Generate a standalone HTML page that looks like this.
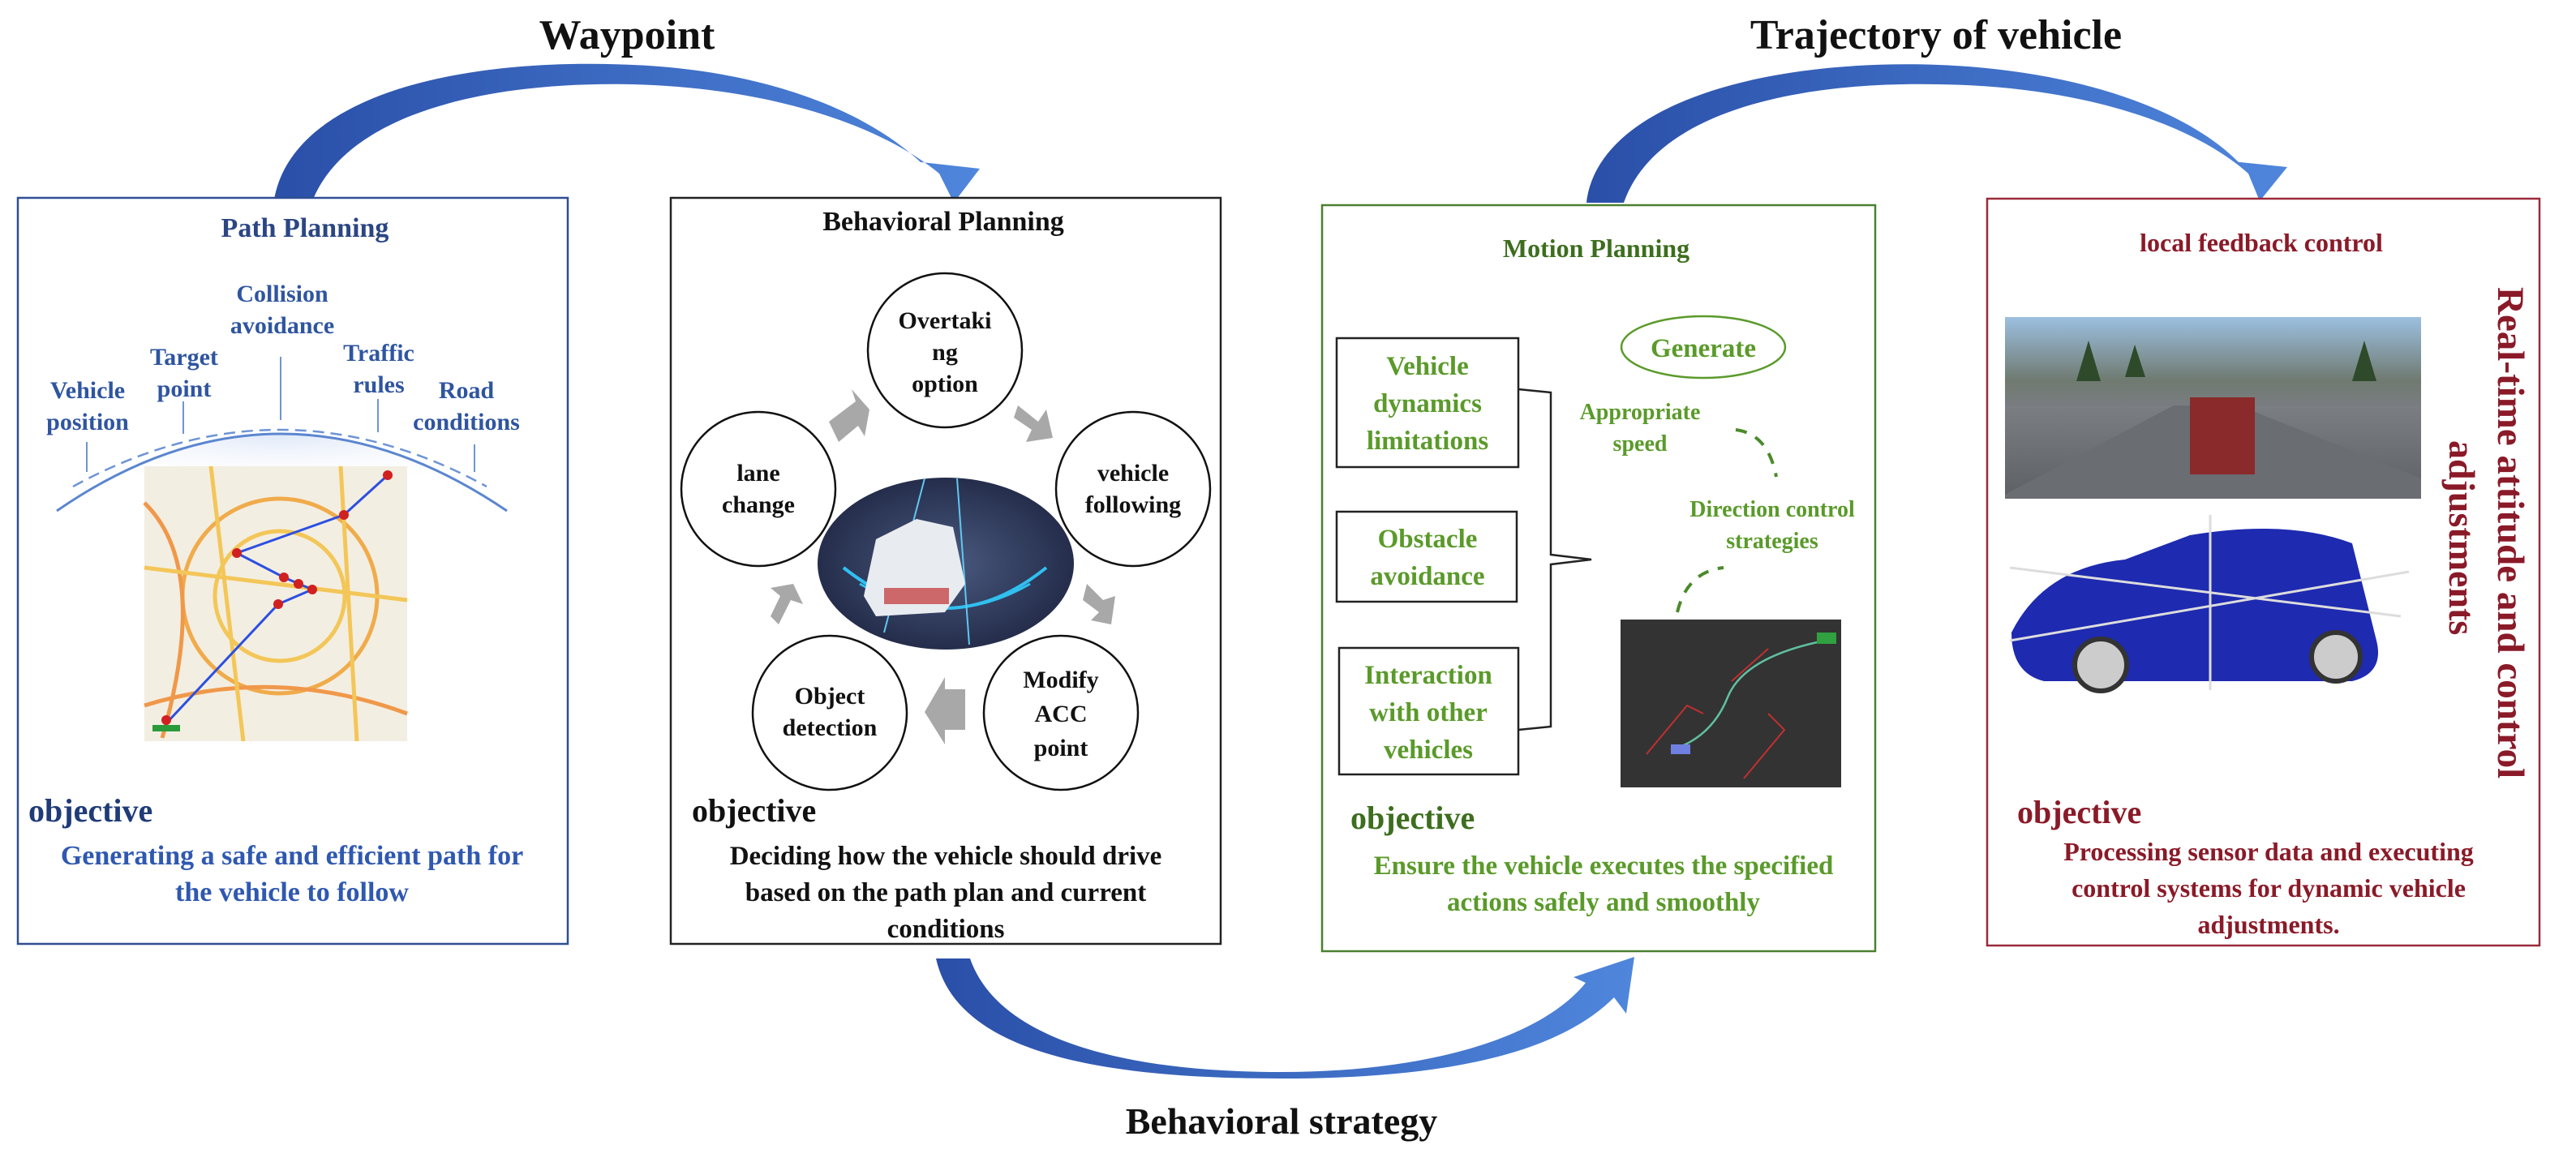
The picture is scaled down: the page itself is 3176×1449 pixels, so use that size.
<!DOCTYPE html>
<html><head><meta charset="utf-8"><style>
html,body{margin:0;padding:0;background:#fff;}
svg{display:block;}
text{font-family:"Liberation Serif",serif;font-weight:bold;}
</style></head><body>
<svg width="3176" height="1449" viewBox="0 0 3176 1449" xmlns="http://www.w3.org/2000/svg">
<defs>
<linearGradient id="ab" x1="0" y1="0" x2="1" y2="0"><stop offset="0" stop-color="#2a4fa8"/><stop offset="1" stop-color="#4f86dc"/></linearGradient>
<radialGradient id="dome" cx="0.5" cy="0" r="0.7"><stop offset="0" stop-color="#dfe8f8"/><stop offset="1" stop-color="#ffffff" stop-opacity="0"/></radialGradient>
<radialGradient id="carbg" cx="0.5" cy="0.5" r="0.6"><stop offset="0" stop-color="#4a5a80"/><stop offset="1" stop-color="#1d2440"/></radialGradient>
<linearGradient id="street" x1="0" y1="0" x2="0" y2="1"><stop offset="0" stop-color="#9cc0e0"/><stop offset="0.35" stop-color="#6f7a70"/><stop offset="0.5" stop-color="#7a7d82"/><stop offset="1" stop-color="#5d6166"/></linearGradient>
</defs>

<!-- Arrows -->
<path d="M338,246 C360,120 560,70 780,80 C930,86 1060,130 1135,200 L1118,198 L1208,208 L1176,250 L1158,214 C1080,150 940,108 780,104 C600,100 430,140 386,246 Z" fill="url(#ab)"/>
<path d="M1956,250 C1970,130 2170,72 2390,80 C2550,86 2690,130 2760,200 L2742,198 L2820,206 L2786,248 L2772,214 C2700,150 2560,106 2390,104 C2210,100 2040,140 2002,250 Z" fill="url(#ab)"/>
<path d="M1154,1182 L1196,1182 C1230,1280 1380,1322 1580,1322 C1760,1322 1900,1280 1955,1212 L1940,1205 L2015,1180 L2005,1250 L1990,1230 C1920,1300 1780,1330 1580,1330 C1360,1330 1180,1300 1154,1182 Z" fill="url(#ab)"/>

<text x="773" y="60" font-size="52" text-anchor="middle" fill="#111">Waypoint</text>
<text x="2387" y="60" font-size="52" text-anchor="middle" fill="#111">Trajectory of vehicle</text>
<text x="1580" y="1398" font-size="46" text-anchor="middle" fill="#111">Behavioral strategy</text>

<!-- Path planning -->
<rect x="22" y="244" width="678" height="920" fill="#fff" stroke="#2f4f92" stroke-width="2.5"/>
<text x="376" y="292" font-size="34" text-anchor="middle" fill="#2b4683">Path Planning</text>
<g font-size="30" fill="#2f55a0" text-anchor="middle">
<text x="348" y="372">Collision</text><text x="348" y="411">avoidance</text>
<text x="227" y="450">Target</text><text x="227" y="489">point</text>
<text x="108" y="491">Vehicle</text><text x="108" y="530">position</text>
<text x="467" y="445">Traffic</text><text x="467" y="484">rules</text>
<text x="575" y="491">Road</text><text x="575" y="530">conditions</text>
</g>
<path d="M70,630 Q345,440 625,630 Z" fill="url(#dome)"/>
<path d="M70,630 Q345,440 625,630" fill="none" stroke="#5b86d0" stroke-width="3"/>
<path d="M90,600 Q345,460 600,600" fill="none" stroke="#6e94d6" stroke-width="2.5" stroke-dasharray="14,8"/>
<g stroke="#6e94d6" stroke-width="2"><line x1="107" y1="545" x2="107" y2="582"/><line x1="226" y1="495" x2="226" y2="535"/><line x1="346" y1="440" x2="346" y2="518"/><line x1="466" y1="492" x2="466" y2="533"/><line x1="585" y1="548" x2="585" y2="582"/></g>
<rect x="178" y="575" width="324" height="339" fill="#f3eee2"/>
<g fill="none" stroke-width="5" opacity="0.85">
<circle cx="345" cy="735" r="120" stroke="#f0a030"/><circle cx="345" cy="735" r="80" stroke="#f4c040"/>
<path d="M178,620 Q260,700 200,910" stroke="#f08a30"/><path d="M178,870 Q340,820 502,880" stroke="#f08a30"/>
<path d="M260,575 L300,914" stroke="#f4c040"/><path d="M420,575 L440,914" stroke="#f4c040"/>
<path d="M178,700 L502,740" stroke="#f4c040"/>
</g>
<path d="M478,586 L424,635 L292,682 L350,712 L385,727 L343,745 L205,892" fill="none" stroke="#2c4fe0" stroke-width="3"/>
<g fill="#d02020"><circle cx="478" cy="586" r="6"/><circle cx="424" cy="635" r="6"/><circle cx="292" cy="682" r="6"/><circle cx="350" cy="712" r="6"/><circle cx="368" cy="720" r="6"/><circle cx="385" cy="727" r="6"/><circle cx="343" cy="745" r="6"/><circle cx="205" cy="888" r="6"/></g>
<rect x="188" y="894" width="34" height="8" fill="#2a9a3a"/>
<text x="35" y="1013" font-size="40" fill="#1f3b78">objective</text>
<g font-size="34" fill="#2f58b0" text-anchor="middle"><text x="360" y="1066">Generating a safe and efficient path for</text><text x="360" y="1111">the vehicle to follow</text></g>

<!-- Behavioral -->
<rect x="827" y="244" width="678" height="920" fill="#fff" stroke="#222" stroke-width="2.5"/>
<text x="1163" y="284" font-size="34" text-anchor="middle" fill="#111">Behavioral Planning</text>
<ellipse cx="1166" cy="695" rx="158" ry="106" fill="url(#carbg)"/>
<path d="M1040,700 Q1166,800 1290,700" fill="none" stroke="#30c0f0" stroke-width="4"/>
<path d="M1060,720 Q1166,780 1270,720" fill="none" stroke="#30c0f0" stroke-width="3"/>
<path d="M1180,590 L1195,795 M1140,590 L1090,780" stroke="#60c8f0" stroke-width="2"/>
<path d="M1065,735 L1080,665 L1130,640 L1175,650 L1190,720 L1165,755 L1080,760 Z" fill="#e8ecf0"/>
<rect x="1090" y="725" width="80" height="20" fill="#c03030" opacity="0.7"/>
<g fill="#fff" stroke="#111" stroke-width="2.5">
<circle cx="1165" cy="432" r="95"/><circle cx="935" cy="603" r="95"/><circle cx="1397" cy="603" r="95"/><circle cx="1023" cy="879" r="95"/><circle cx="1308" cy="879" r="95"/>
</g>
<g font-size="30" text-anchor="middle" fill="#111">
<text x="1165" y="405">Overtaki</text><text x="1165" y="444">ng</text><text x="1165" y="483">option</text>
<text x="935" y="593">lane</text><text x="935" y="632">change</text>
<text x="1397" y="593">vehicle</text><text x="1397" y="632">following</text>
<text x="1023" y="868">Object</text><text x="1023" y="907">detection</text>
<text x="1308" y="848">Modify</text><text x="1308" y="890">ACC</text><text x="1308" y="932">point</text>
</g>
<g fill="#a8a8a8">
<path d="M1022,520 L1055,495 L1050,480 L1072,505 L1066,538 L1058,525 L1034,545 Z"/>
<path d="M1255,500 L1280,520 L1290,505 L1298,540 L1265,545 L1272,530 L1250,515 Z"/>
<path d="M1340,720 L1360,740 L1375,735 L1370,770 L1345,765 L1355,755 L1335,740 Z"/>
<path d="M1190,850 L1165,850 L1165,835 L1140,878 L1165,918 L1165,900 L1190,900 Z"/>
<path d="M960,770 L975,740 L990,745 L978,720 L950,725 L962,735 L950,760 Z"/>
</g>
<text x="853" y="1013" font-size="40" fill="#111">objective</text>
<g font-size="33" fill="#111" text-anchor="middle"><text x="1166" y="1066">Deciding how the vehicle should drive</text><text x="1166" y="1111">based on the path plan and current</text><text x="1166" y="1156">conditions</text></g>

<!-- Motion -->
<rect x="1630" y="253" width="682" height="920" fill="#fff" stroke="#4a8030" stroke-width="2.5"/>
<text x="1968" y="317" font-size="32" text-anchor="middle" fill="#3d6e1e">Motion Planning</text>
<g fill="#fff" stroke="#222" stroke-width="2.5"><rect x="1648" y="417" width="224" height="159"/><rect x="1648" y="631" width="222" height="111"/><rect x="1651" y="799" width="221" height="156"/></g>
<g font-size="33" fill="#5a9a2a" text-anchor="middle">
<text x="1760" y="462">Vehicle</text><text x="1760" y="508">dynamics</text><text x="1760" y="554">limitations</text>
<text x="1760" y="675">Obstacle</text><text x="1760" y="721">avoidance</text>
<text x="1761" y="843">Interaction</text><text x="1761" y="889">with other</text><text x="1761" y="935">vehicles</text>
</g>
<path d="M1872,480 L1912,484 L1912,684 L1962,690 L1912,696 L1912,896 L1872,900" fill="none" stroke="#222" stroke-width="2.5"/>
<ellipse cx="2100" cy="428" rx="101" ry="38" fill="none" stroke="#5a9a2a" stroke-width="2.5"/>
<text x="2100" y="440" font-size="33" text-anchor="middle" fill="#5a9a2a">Generate</text>
<g font-size="28" fill="#5a9a2a" text-anchor="middle"><text x="2022" y="517">Appropriate</text><text x="2022" y="556">speed</text><text x="2185" y="637">Direction control</text><text x="2185" y="676">strategies</text></g>
<path d="M2140,530 Q2180,535 2190,588" fill="none" stroke="#4a8a2a" stroke-width="4" stroke-dasharray="14,12"/>
<path d="M2068,755 Q2080,705 2125,700" fill="none" stroke="#4a8a2a" stroke-width="4" stroke-dasharray="14,12"/>
<rect x="1998" y="764" width="272" height="207" fill="#333"/>
<path d="M2030,930 L2080,870 L2100,880 M2135,840 L2180,800 M2150,960 L2200,900 L2180,880" stroke="#c03030" stroke-width="2" fill="none"/>
<path d="M2060,925 Q2110,910 2130,860 Q2150,810 2250,790" stroke="#60c0a0" stroke-width="2.5" fill="none"/>
<rect x="2240" y="780" width="24" height="14" fill="#30a040"/><rect x="2060" y="918" width="24" height="12" fill="#7080e0"/>
<text x="1665" y="1022" font-size="40" fill="#3d6e1e">objective</text>
<g font-size="33" fill="#5a9a2a" text-anchor="middle"><text x="1977" y="1078">Ensure the vehicle executes the specified</text><text x="1977" y="1123">actions safely and smoothly</text></g>

<!-- Red -->
<rect x="2450" y="245" width="681" height="921" fill="#fff" stroke="#9a2a3a" stroke-width="2.5"/>
<text x="2788" y="310" font-size="32" text-anchor="middle" fill="#8a1a28">local feedback control</text>
<rect x="2472" y="391" width="513" height="224" fill="url(#street)"/>
<path d="M2472,610 L2680,500 L2760,500 L2985,590 L2985,615 L2472,615 Z" fill="#6a6d72"/>
<rect x="2700" y="490" width="80" height="95" fill="#8a2a2a"/>
<g fill="#2e4a2a"><polygon points="2560,470 2575,420 2590,470"/><polygon points="2620,465 2632,425 2645,465"/><polygon points="2900,470 2915,420 2930,470"/></g>
<path d="M2480,780 Q2520,700 2620,690 L2700,660 Q2820,640 2900,670 L2930,790 Q2940,830 2900,840 L2520,840 Q2480,830 2480,780 Z" fill="#1e2ab0"/>
<circle cx="2590" cy="820" r="32" fill="#ccc" stroke="#333" stroke-width="6"/><circle cx="2880" cy="810" r="30" fill="#ccc" stroke="#333" stroke-width="6"/>
<path d="M2478,700 L2960,760 M2478,790 L2970,705 M2725,635 L2725,851" stroke="#ddd" stroke-width="3"/>
<text transform="translate(3080,354) rotate(90)" font-size="47" fill="#8a1a28">Real-time attitude and control</text>
<text transform="translate(3020,543) rotate(90)" font-size="46" fill="#8a1a28">adjustments</text>
<text x="2487" y="1015" font-size="40" fill="#8a1a28">objective</text>
<g font-size="32" fill="#8a1a28" text-anchor="middle"><text x="2797" y="1061">Processing sensor data and executing</text><text x="2797" y="1106">control systems for dynamic vehicle</text><text x="2797" y="1151">adjustments.</text></g>
</svg>
</body></html>
